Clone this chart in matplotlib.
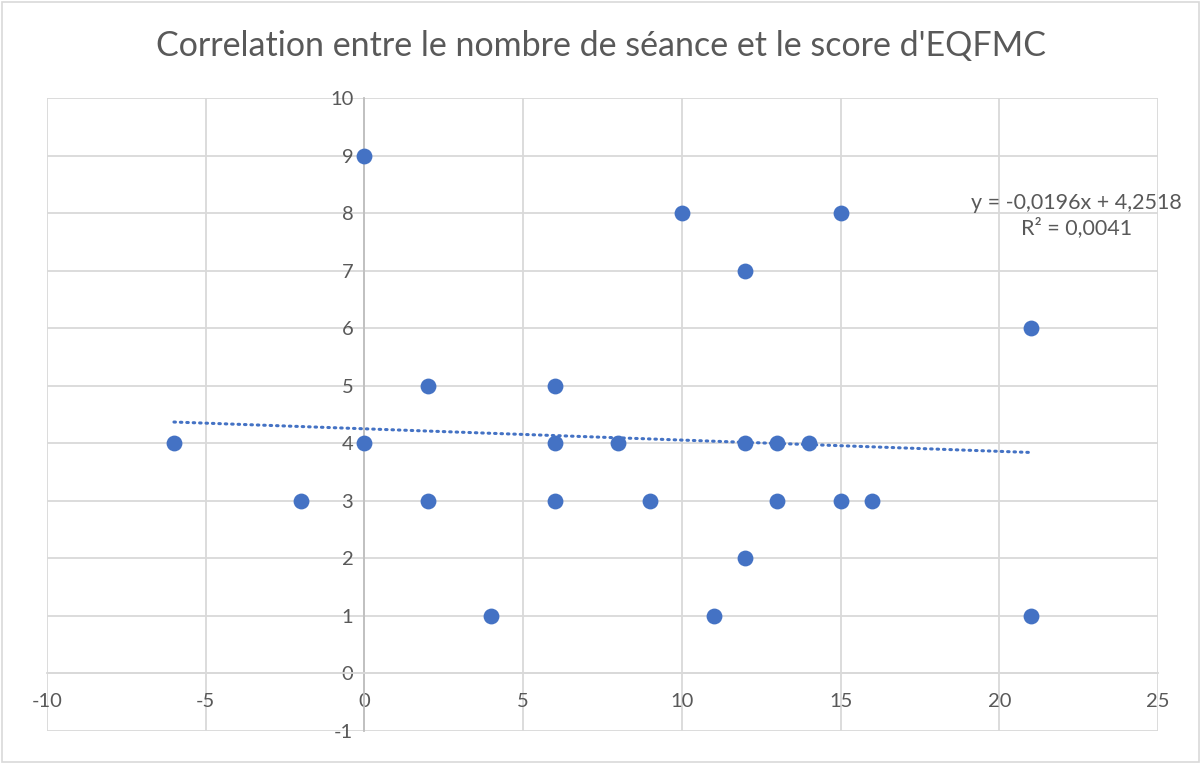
import matplotlib.pyplot as plt
from matplotlib.patches import Rectangle

# Données (nombre de séances, score EQFMC)
seances = [-6, -2, 0, 0, 2, 2, 4, 6, 6, 6, 8, 9, 10, 11, 12, 12, 12, 13, 13, 14, 15, 15, 16, 21, 21]
scores = [4, 3, 9, 4, 5, 3, 1, 5, 4, 3, 4, 3, 8, 1, 7, 4, 2, 4, 3, 4, 8, 3, 3, 6, 1]

# Courbe de tendance
pente = -0.0196
ordonnee = 4.2518
r2 = 0.0041

x_ticks = [-10, -5, 0, 5, 10, 15, 20, 25]
y_ticks = [-1, 0, 1, 2, 3, 4, 5, 6, 7, 8, 9, 10]

plt.rcParams['font.family'] = ['Lato', 'DejaVu Sans']
plt.rcParams['axes.unicode_minus'] = False

bleu = '#4472C4'
gris_txt = '#595959'

fig = plt.figure(figsize=(12.01, 7.64), dpi=100)
fig.patches.append(Rectangle((0.002, 0.003), 0.996, 0.994, transform=fig.transFigure,
                             fill=False, edgecolor='#D9D9D9', linewidth=1.2))
ax = fig.add_axes([0.0391, 0.0432, 0.9251, 0.8285])

ax.set_xlim(-10, 25)
ax.set_ylim(-1, 10)
ax.set_xticks(x_ticks)
ax.set_yticks(y_ticks)
ax.grid(True, color='#D9D9D9', linewidth=1.3)
ax.set_axisbelow(True)

for s in ['top', 'right']:
    ax.spines[s].set_visible(False)
ax.spines['left'].set_position(('data', 0))
ax.spines['bottom'].set_position(('data', 0))
ax.spines['left'].set_color('#BFBFBF')
ax.spines['bottom'].set_color('#D9D9D9')
ax.spines['left'].set_linewidth(1.3)
ax.spines['bottom'].set_linewidth(1.3)
ax.tick_params(length=0, labelsize=14.5, labelcolor=gris_txt)
ax.tick_params(axis='x', pad=14)
ax.tick_params(axis='y', pad=8)

ax.scatter(seances, scores, s=130, color=bleu, zorder=3, linewidths=0)

xt = [min(seances), max(seances)]
yt = [pente * v + ordonnee for v in xt]
ax.plot(xt, yt, color=bleu, linewidth=2.2, linestyle=(0, (0.5, 1.6)),
        dash_capstyle='round', zorder=2)

eq = f'y = {pente:.4f}x + {ordonnee:.4f}'.replace('.', ',')
r2txt = f'R² = {r2:.4f}'.replace('.', ',')
ax.text(22.43, 7.96, eq + '\n' + r2txt, ha='center', va='center', multialignment='center',
        fontsize=15.5, color=gris_txt, linespacing=1.25)

fig.text(0.5, 0.94, "Correlation entre le nombre de séance et le score d'EQFMC",
         ha='center', va='center', fontsize=24.5, color=gris_txt)

fig.savefig('out.png', dpi=100)
